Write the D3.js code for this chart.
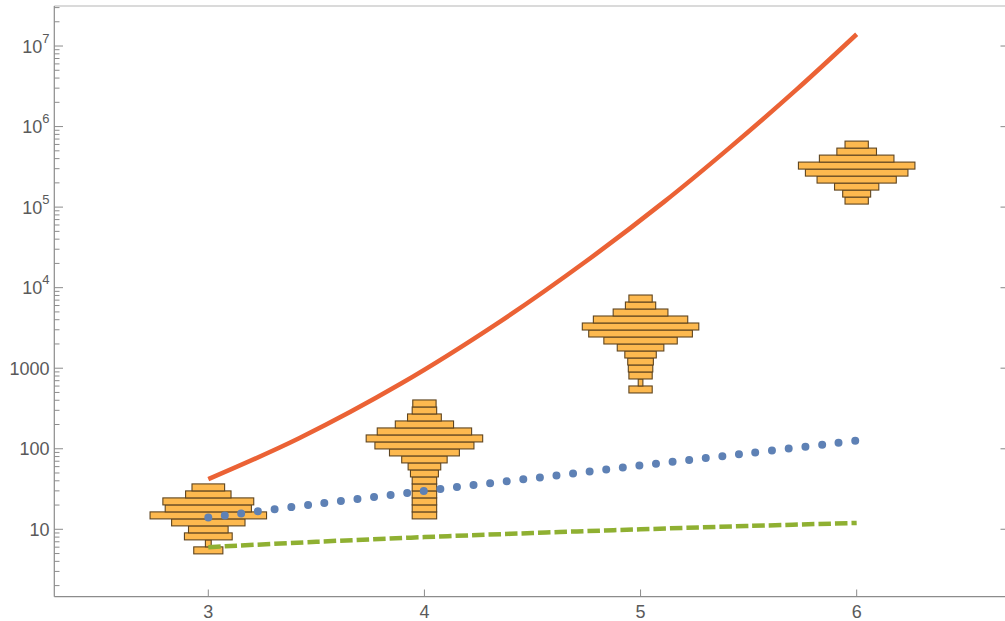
<!DOCTYPE html>
<html>
<head>
<meta charset="utf-8">
<script src="https://cdn.jsdelivr.net/npm/d3@7"></script>
<style>
  body { margin: 0; background: #fff; }
  svg { display: block; }
</style>
</head>
<body>
<div class="chart"></div>
<script>
// x ticks and y decades
var xTicks = [3, 4, 5, 6];
var yDecades = [1, 2, 3, 4, 5, 6, 7];

// curves (x, value)
var redX = [3.0, 3.42, 3.89, 4.35, 4.74, 5.11, 5.41, 5.72, 6.0];
var redY = [42, 135, 640, 3790, 20500, 117000, 540000, 2.85e6, 1.4e7];
var blueX = [3, 3.5, 4, 4.5, 5, 5.5, 6];
var blueY = [14, 20.6, 30, 43, 62, 88, 126];
var greenX = [3, 3.5, 4, 4.5, 5, 5.5, 6];
var greenY = [6, 7, 8, 9, 10, 11, 12];

// histograms: bins of 0.2 in ln(value), widths relative to widest bar (bottom -> top)
var binStep = 0.2;
var histX = [3, 4, 5, 6];
var histStart = [1.6, 2.6, 6.2, 11.6];
var hist3 = [25, 5, 41, 34, 63, 100, 74, 78, 39, 28];
var hist4 = [21, 21, 21, 21, 21, 21, 24, 28, 39, 60, 85, 100, 81, 50, 29, 21, 20];
var hist5 = [20, 4, 20, 21, 22, 27, 40, 63, 89, 100, 81, 47, 26, 20];
var hist6 = [20, 24, 38, 68, 88, 100, 64, 34, 20];
var histCounts = [hist3, hist4, hist5, hist6];

var width = 1005;
var height = 621;

var x = d3.scaleLinear().domain([2.2874, 6.684]).range([54.3, 1004.5]);
var y = d3.scaleLog().domain([1.456, 3.14e7]).range([596.7, 6]);
var w = d3.scaleLinear().domain([0, 100]).range([0, 116.5]);

var svg = d3.select(".chart")
    .append("svg")
    .attr("width", width)
    .attr("height", height)
    .style("font-family", "'Liberation Sans', Arial, sans-serif");

// frame
svg.append("line").attr("x1", 54.3).attr("x2", width).attr("y1", 6).attr("y2", 6)
    .attr("stroke", "#b5b5b5").attr("stroke-width", 1.2);
svg.append("line").attr("x1", 54.3).attr("x2", 54.3).attr("y1", 6).attr("y2", 596.7)
    .attr("stroke", "#8c8c8c").attr("stroke-width", 1.2);
svg.append("line").attr("x1", 54.3).attr("x2", width).attr("y1", 596.7).attr("y2", 596.7)
    .attr("stroke", "#8c8c8c").attr("stroke-width", 1.2);

// y ticks (major + minor), inward
var minor = [];
[0, 1, 2, 3, 4, 5, 6, 7].forEach(function(e){
    for (var k = 2; k <= 9; k++) {
        var v = k * Math.pow(10, e);
        if (v > y.domain()[0] && v < y.domain()[1]) minor.push(v);
    }
});
svg.selectAll(".ymin").data(minor).enter().append("line")
    .attr("x1", 54.3).attr("x2", 59.5)
    .attr("y1", function(d){ return y(d); }).attr("y2", function(d){ return y(d); })
    .attr("stroke", "#8c8c8c").attr("stroke-width", 1);
svg.selectAll(".ymaj").data(yDecades).enter().append("line")
    .attr("x1", 54.3).attr("x2", 63)
    .attr("y1", function(d){ return y(Math.pow(10, d)); }).attr("y2", function(d){ return y(Math.pow(10, d)); })
    .attr("stroke", "#8c8c8c").attr("stroke-width", 1);
// right side ticks
svg.selectAll(".yright").data(yDecades).enter().append("line")
    .attr("x1", 1000.5).attr("x2", width)
    .attr("y1", function(d){ return y(Math.pow(10, d)); }).attr("y2", function(d){ return y(Math.pow(10, d)); })
    .attr("stroke", "#999").attr("stroke-width", 1.2);

// y labels
var ylab = svg.selectAll(".ylab").data(yDecades).enter().append("text")
    .attr("x", 49.5)
    .attr("y", function(d){ return y(Math.pow(10, d)) + 6.5; })
    .attr("text-anchor", "end")
    .attr("fill", "#5a5a5a")
    .style("font-size", "18px");
ylab.each(function(d){
    var t = d3.select(this);
    if (d <= 3) {
        t.text(String(Math.pow(10, d)));
    } else {
        t.append("tspan").text("10");
        t.append("tspan").text(d).style("font-size", "13px").attr("dy", -10);
    }
});

// x ticks and labels
svg.selectAll(".xt").data(xTicks).enter().append("line")
    .attr("x1", function(d){ return x(d); }).attr("x2", function(d){ return x(d); })
    .attr("y1", 596.7).attr("y2", 589.5)
    .attr("stroke", "#8c8c8c").attr("stroke-width", 1);
svg.selectAll(".xl").data(xTicks).enter().append("text")
    .attr("x", function(d){ return x(d); })
    .attr("y", 618)
    .attr("text-anchor", "middle")
    .attr("fill", "#5a5a5a")
    .style("font-size", "18px")
    .text(function(d){ return d; });

// histograms
histX.forEach(function(cx, gi){
    var counts = histCounts[gi];
    svg.append("g").selectAll("rect").data(counts).enter().append("rect")
        .attr("x", function(d){ return x(cx) - w(d) / 2; })
        .attr("width", function(d){ return w(d); })
        .attr("y", function(d, i){ return y(Math.exp(histStart[gi] + (i + 1) * binStep)); })
        .attr("height", function(d, i){
            return y(Math.exp(histStart[gi] + i * binStep)) - y(Math.exp(histStart[gi] + (i + 1) * binStep));
        })
        .attr("fill", "#fdb94f")
        .attr("stroke", "#5f4520")
        .attr("stroke-width", 1.1);
});

// curves
var line = d3.line()
    .x(function(d){ return x(d[0]); })
    .y(function(d){ return y(d[1]); })
    .curve(d3.curveCatmullRom);

svg.append("path").attr("d", line(d3.zip(greenX, greenY)))
    .attr("fill", "none").attr("stroke", "#8fb032").attr("stroke-width", 4.5)
    .attr("stroke-dasharray", "12.5 4");
svg.append("path").attr("d", line(d3.zip(blueX, blueY)))
    .attr("fill", "none").attr("stroke", "#5e81b5").attr("stroke-width", 8)
    .attr("stroke-linecap", "round").attr("stroke-dasharray", "0 16.7");
svg.append("path").attr("d", line(d3.zip(redX, redY)))
    .attr("fill", "none").attr("stroke", "#eb6235").attr("stroke-width", 4.5);
</script>
</body>
</html>
